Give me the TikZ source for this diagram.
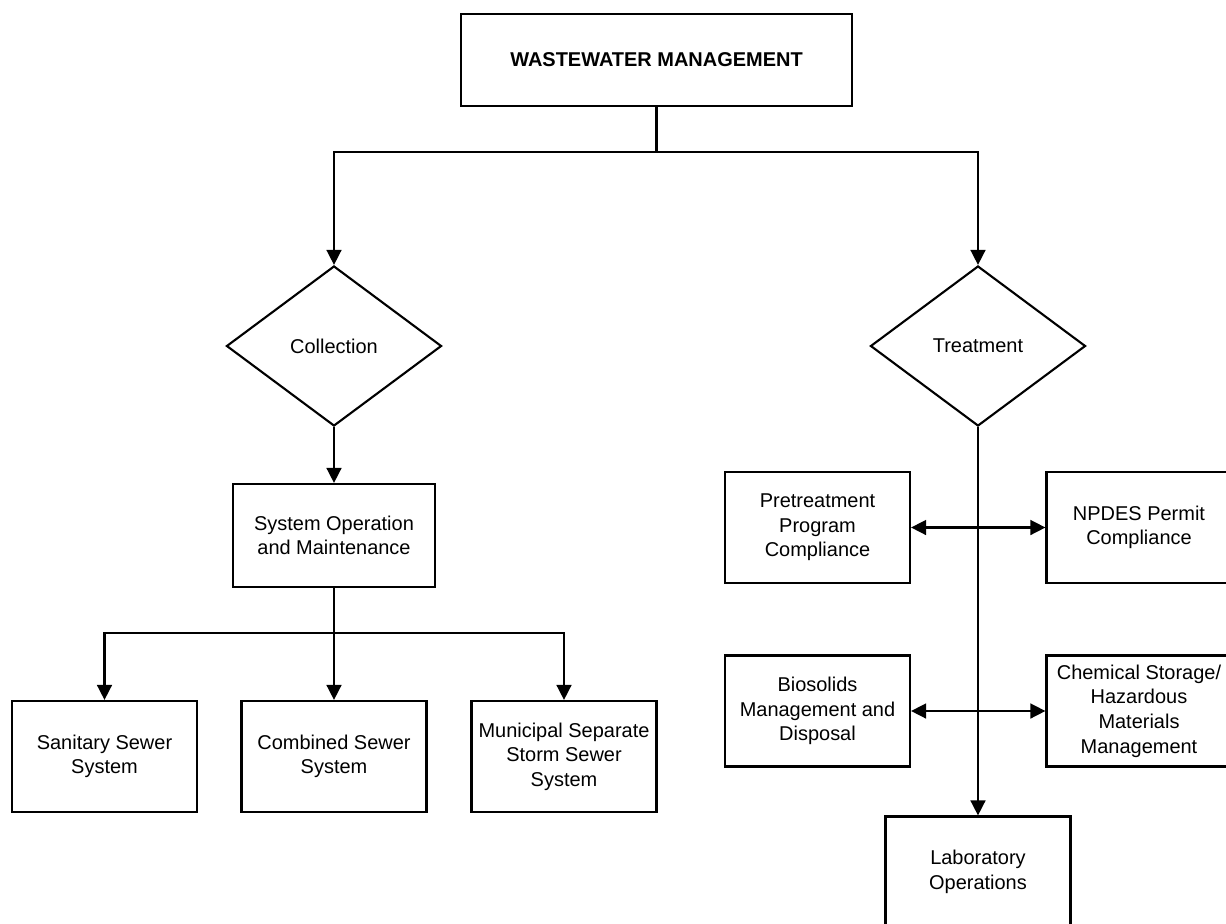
\documentclass[tikz,border=0pt]{standalone}
\usepackage{fontspec}
\setmainfont{Liberation Sans}
\usepackage{tikz}
\usetikzlibrary{arrows.meta}
\usetikzlibrary{shapes.geometric}

\begin{document}
\begin{tikzpicture}[x=0.025cm,y=-0.025cm,line width=1.5pt,
  font=\fontsize{14.2}{17.5}\selectfont,
  box/.style={draw=black,rectangle,align=center,inner sep=2pt,minimum width=4.625cm,minimum height=2.775cm},
  choice/.style={draw=black,diamond,align=center,inner sep=1pt,minimum width=5.375cm,minimum height=4cm},
  >={Triangle[length=0.375cm,width=0.37cm]}]
\useasboundingbox (0,0) rectangle (1226,923);
\clip (0,0) rectangle (1226,923);

\node (W)[box,minimum width=9.775cm,minimum height=2.3cm] at (656.5,60) {\textbf{WASTEWATER MANAGEMENT}};
\coordinate (W0) at (656.5,152);
\draw (W.south)--(W0);

\node (C)[choice] at (334,346) {Collection};
\node (T)[choice] at (978,346) {Treatment};
\draw[->] (W0) -| (C.north);
\draw[->] (W0) -| (T.north);

% collection side
\node (S)[box,minimum width=5.05cm,minimum height=2.575cm] at (334,535.5) {System Operation\\and Maintenance};
\draw[->] (C.south)--(S.north);
\coordinate (S0) at (334,633);
\draw (S.south)--(S0);

\node (S1)[box] at (104.5,756.5) {Sanitary Sewer\\System};
\node (S2)[box] at (334,756.5) {Combined Sewer\\System};
\node (S3)[box] at (564,756.5) {Municipal Separate\\Storm Sewer\\System};
\draw[->] (S0) -| (S1.north);
\draw[->] (S0)--(S2.north);
\draw[->] (S0) -| (S3.north);

% treatment side
\node (P)[box] at (817.5,527.5) {Pretreatment\\Program\\Compliance};
\node (N)[box] at (1139,527.5) {NPDES Permit\\Compliance};
\node (B)[box] at (817.5,711) {Biosolids\\Management and\\Disposal};
\node (H)[box] at (1139,711) {Chemical Storage/\\Hazardous\\Materials\\Management};
\node (L)[box] at (978,872) {Laboratory\\Operations};
\draw[->] (T.south)--(L.north);
\draw[<->] (P.east)--(N.west);
\draw[<->] (B.east)--(H.west);
\end{tikzpicture}
\end{document}
